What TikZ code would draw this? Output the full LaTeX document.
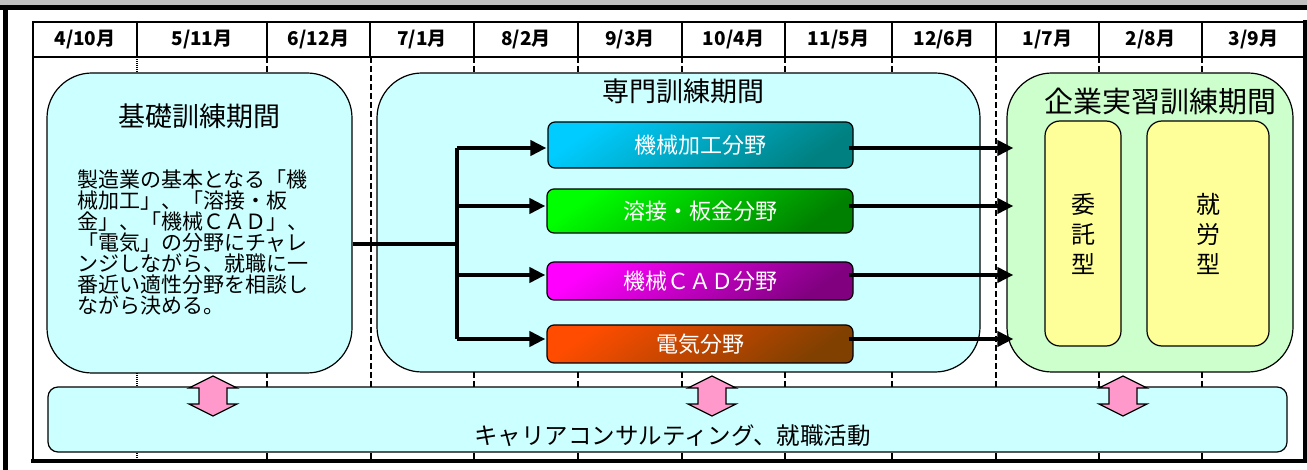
\documentclass[tikz,border=0pt]{standalone}
\usepackage{fontspec}
\setmainfont{Noto Sans CJK JP}
\usetikzlibrary{positioning,calc,arrows.meta}

\definecolor{kisocyan}{HTML}{CCFFFF}
\definecolor{jisshugreen}{HTML}{CCFFCC}
\definecolor{katayellow}{HTML}{FFFF99}
\definecolor{carpink}{HTML}{FF99CC}
\definecolor{topgray}{HTML}{C0C0C0}

\tikzset{
	month/.style={font=\fontsize{19}{19}\selectfont\bfseries},
	tick/.style={line width=2pt,dash pattern=on 6pt off 3pt},
	period/.style={draw,line width=1.2pt,rounded corners=45pt,inner sep=0pt},
	kata/.style={draw,line width=1.2pt,rounded corners=15pt,fill=katayellow,inner sep=0pt,
		align=center,font=\fontsize{24}{30}\selectfont},
	field/.style={draw,line width=1.2pt,rounded corners=7pt,inner sep=0pt,text=white,
		font=\fontsize{22}{22}\selectfont},
	title/.style={font=\fontsize{27}{27}\selectfont,inner sep=0pt},
	flow/.style={line width=4pt},
	arr/.style={line width=4pt,-{Triangle[length=16pt,width=15pt]}},
	pinkarr/.style={draw,line width=1.2pt,fill=carpink,line join=miter}
}

\begin{document}
\begin{tikzpicture}[x=1pt,y=-1pt]
	\useasboundingbox (0,0) rectangle (1307,470);
	\fill[white] (0,0) rectangle (1307,470);
	
	% outer frame
	\fill[topgray] (0,0) rectangle (1307,5);
	\draw[line width=5pt] (0,7.5) -- (1307,7.5);
	\draw[line width=5pt] (5.5,5) -- (5.5,470);
	
	% month table
	\draw[line width=2.5pt] (33,22) rectangle (1305,461);
	\draw[line width=2.5pt] (33,57) -- (1305,57);
	\foreach \xa/\xb/\m/\n in {33/137/4/10,137/267/5/11,267/370/6/12,370/474/7/1,
		474/578/8/2,578/682/9/3,682/785/10/4,785/892/11/5,892/996/12/6,
		996/1099/1/7,1099/1202/2/8,1202/1305/3/9}
	\node[month] (m\m) at ({(\xa+\xb)/2},40) {\m/\n{}月};
	\foreach \x in {137,267,370,474,578,682,785,892,996,1099,1202}
	\draw[line width=2.5pt] (\x,22) -- (\x,57);
	\foreach \x in {267,474,578,682,785,892,1099,1202}
	\draw[tick] (\x,57) -- (\x,461);
	\draw[tick,line width=2.5pt] (371,57) -- (371,461);
	\draw[tick,line width=2.5pt] (996,57) -- (996,461);
	\draw[line width=2.5pt,dash pattern=on 1pt off 1pt] (137,57) -- (137,461);
	\draw[line width=4pt] (31,461) -- (1307,461);
	\draw[line width=4pt] (1305,20) -- (1305,463);
	
	% periods
	\node[period,fill=kisocyan,minimum width=305pt,minimum height=300pt] (kiso) at (199.5,223) {};
	\node[period,fill=kisocyan,minimum width=603pt,minimum height=299pt] (senmon) at (678.5,222.5) {};
	\node[period,fill=jisshugreen,minimum width=286pt,minimum height=299pt] (jisshu) at (1150,222.5) {};
	\node[title] at ([yshift=-44pt]kiso.north) {基礎訓練期間};
	\node[title] at ([xshift=5pt,yshift=-19pt]senmon.north) {専門訓練期間};
	\node[title,font=\fontsize{29}{29}\selectfont] at ([xshift=10pt,yshift=-29pt]jisshu.north) {企業実習訓練期間};
	
	\node[anchor=north west,align=left,inner sep=0pt,font=\fontsize{21}{21}\selectfont] (setsumei) at (77,170)
	{製造業の基本となる「機\\械加工」、「溶接・板\\金」、「機械ＣＡＤ」、\\「電気」の分野にチャレ\\ンジしながら、就職に一\\番近い適性分野を相談し\\ながら決める。};
	
	% fields
	\node[field,top color=cyan!80!blue,bottom color=cyan!50!black,shading angle=35,
	minimum width=305pt,minimum height=46pt] (kikai) at (700.5,145) {機械加工分野};
	\node[field,top color=green,bottom color=green!50!black,shading angle=35,
	minimum width=306pt,minimum height=44pt] (yosetsu) at (700,211) {溶接・板金分野};
	\node[field,top color=magenta,bottom color=magenta!50!black,shading angle=35,
	minimum width=306pt,minimum height=38pt] (cad) at (700,281) {機械ＣＡＤ分野};
	\node[field,top color=orange!60!red,bottom color=orange!50!black,shading angle=35,
	minimum width=306pt,minimum height=38pt] (denki) at (700,344) {電気分野};
	
	% internship types
	\node[kata,minimum width=76pt,minimum height=225pt] (itaku) at (1083,233.5) {委\\託\\型};
	\node[kata,minimum width=122pt,minimum height=225pt] (shuro) at (1208,233.5) {就\\労\\型};
	
	% career
	\node[draw,line width=1.2pt,fill=kisocyan,rounded corners=10pt,minimum width=1239pt,
	minimum height=65pt] (career) at (667.5,419.5) {};
	\node[font=\fontsize{23.5}{23.5}\selectfont,inner sep=0pt] at ([xshift=5pt,yshift=-16pt]career.center)
	{キャリアコンサルティング、就職活動};
	
	% connectors
	\coordinate (hub) at (457,244);
	\draw[flow] (kiso.east |- hub) -- (hub);
	\draw[flow] ($(hub |- kikai.west)+(0,3)$) -- ($(hub |- denki.west)+(0,-5)$);
	\foreach \b/\s in {kikai/3,yosetsu/-5,cad/-6,denki/-5}
	\draw[arr] ($(hub |- \b.west)+(0,\s)$) -- ($(\b.west)+(-1,\s)$);
	\foreach \b/\s in {kikai/3,yosetsu/-5,cad/-6,denki/-5}
	\draw[arr] ($(\b.east)+(-5,\s)$) -- ($(jisshu.west |- \b.west)+(7,\s)$);
	
	% double arrows to career
	\foreach \x in {213,712,1123}
	\draw[pinkarr] (\x,376) -- ++(24,12) -- ++(-10,0) -- ++(0,16) -- ++(10,0)
	-- (\x,416) -- ++(-24,-12) -- ++(10,0) -- ++(0,-16) -- ++(-10,0) -- cycle;
\end{tikzpicture}
\end{document}
